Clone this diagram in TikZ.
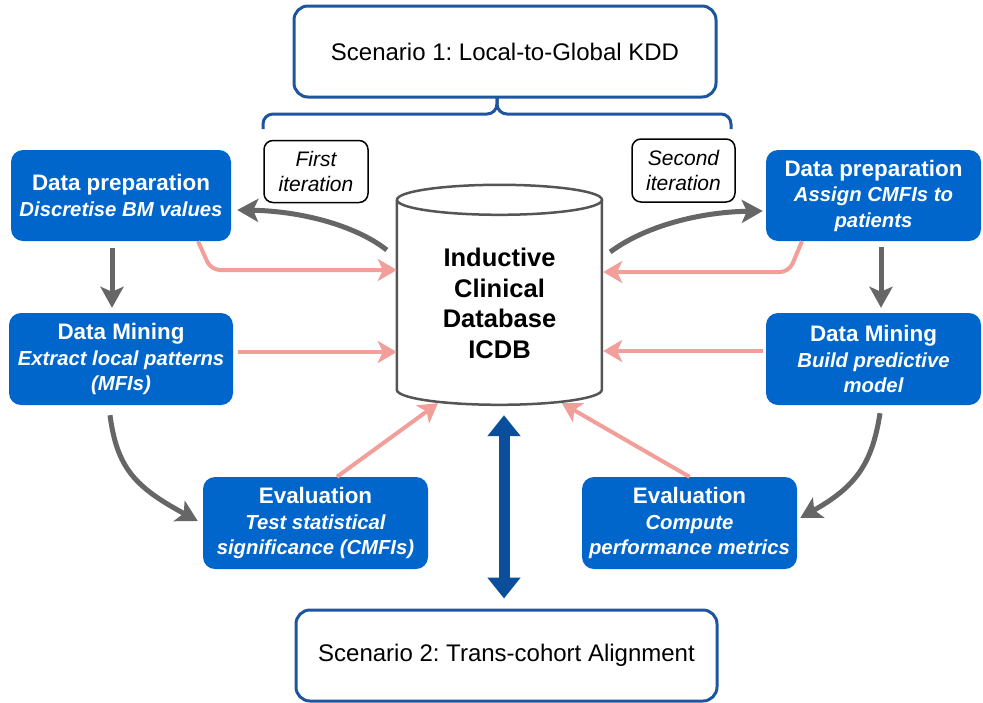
\documentclass[tikz,border=0pt]{standalone}
\usepackage{fontspec}
\setmainfont{Liberation Sans}
\usetikzlibrary{arrows.meta,calc}
\definecolor{boxblue}{HTML}{0066CC}
\definecolor{scblue}{HTML}{1F559F}
\definecolor{dblue}{HTML}{0B4F9C}
\definecolor{garrow}{HTML}{666666}
\definecolor{parrow}{HTML}{F29E9A}
\definecolor{cylgray}{HTML}{555555}
\frenchspacing
\begin{document}
\begin{tikzpicture}[x=1pt,y=-1pt,
  stepbox/.style={rectangle, rounded corners=12pt, fill=boxblue, text=white, align=center, inner sep=0pt,
    font=\fontsize{20.3}{25.5}\selectfont\bfseries\itshape},
  scenbox/.style={rectangle, rounded corners=14pt, draw=scblue, line width=3pt, fill=white, inner sep=0pt,
    font=\fontsize{24}{29}\selectfont},
  iterbox/.style={rectangle, rounded corners=9pt, draw=black, line width=1.5pt, fill=white, align=center, inner sep=0pt,
    font=\fontsize{21}{25}\selectfont\itshape},
  graya/.style={draw=garrow, line width=5pt, -{Stealth[length=21pt,width=23pt,inset=5pt]}},
  pinka/.style={draw=parrow, line width=4pt, -{Stealth[length=19pt,width=22pt,inset=5pt]}},
]
\newcommand{\ttlfont}[1]{{\fontsize{22.4}{25.5}\selectfont\upshape #1}}
\useasboundingbox (0,0) rectangle (983,702);
\fill[white] (0,0) rectangle (983,702);

% scenario boxes
\node[scenbox, minimum width=422pt, minimum height=91pt] (s1) at (505,51.5) {Scenario 1: Local-to-Global KDD};
\node[scenbox, minimum width=421pt, minimum height=91pt] (s2) at (506.5,655.5) {Scenario 2: Trans-cohort Alignment};

% brace
\coordinate (bt) at (497,97);
\draw[scblue, line width=3pt, rounded corners=10pt] (bt) -- (497,114) -| (263,129);
\draw[scblue, line width=3pt, rounded corners=10pt] (bt) -- (497,114) -| (731,129);

% iteration labels
\node[iterbox, minimum width=104pt, minimum height=62pt] (it1) at (316,171.5) {First\\iteration};
\node[iterbox, minimum width=103pt, minimum height=63pt] (it2) at (683.5,170.5) {Second\\iteration};

% step boxes
\node[stepbox, minimum width=220pt, minimum height=91pt] (dpL) at (121,195.5) {\ttlfont{Data preparation}\\Discretise BM values};
\node[stepbox, minimum width=224pt, minimum height=92pt] (dmL) at (121,359) {\ttlfont{Data Mining}\\Extract local patterns\\(MFIs)};
\node[stepbox, minimum width=215pt, minimum height=91pt] (dpR) at (873.5,195.5) {\ttlfont{Data preparation}\\Assign CMFIs to\\patients};
\node[stepbox, minimum width=215pt, minimum height=92pt] (dmR) at (873.5,359) {\ttlfont{Data Mining}\\Build predictive\\model};
\node[stepbox, minimum width=225pt, minimum height=92pt] (evL) at (315.5,523) {\ttlfont{Evaluation}\\Test statistical\\significance (CMFIs)};
\node[stepbox, minimum width=215pt, minimum height=92pt] (evR) at (689.5,523) {\ttlfont{Evaluation}\\Compute\\performance metrics};

% database cylinder
\node[rectangle, minimum width=205pt, minimum height=220pt, inner sep=0pt] (db) at (499.5,295) {};
\draw[cylgray, line width=2.5pt, fill=white] ($(db.north west)+(0,15)$) -- ++(0,190)
  arc[start angle=180, end angle=360, x radius=102.5pt, y radius=15pt] -- ++(0,-190);
\draw[cylgray, line width=2.5pt] ($(db.north)+(0,15)$) ellipse [x radius=102.5pt, y radius=15pt];
\node[align=center, inner sep=0pt, font=\fontsize{25.5}{30.5}\selectfont\bfseries] (dbtext) at ($(db.center)+(0,8.5)$) {Inductive\\Clinical\\Database\\ICDB};

% gray process arrows
\draw[graya] ($(db.west)+(-10,-45)$) .. controls (355,225) and (300,211) .. ($(dpL.east)+(6,14.5)$);
\draw[graya] ($(db.east)+(8,-43)$) .. controls (645,226) and (700,212) .. ($(dpR.west)+(-3,15.5)$);
\draw[graya] ($(dpL.south)+(-9,7)$) -- ($(dmL.north)+(-9,-5)$);
\draw[graya] ($(dpR.south)+(7.5,6)$) -- ($(dmR.north)+(7.5,-5)$);
\draw[graya] ($(dmL.south)+(-11,10)$) .. controls (117,468) and (135,487) .. ($(evL.west)+(-5,-2)$);
\draw[graya] ($(dmR.south)+(6.5,8)$) .. controls (872,465) and (855,487) .. ($(evR.east)+(3,-5)$);

% pink feedback arrows
\draw[pinka, rounded corners=9pt] ($(dpL.south)+(77,0)$) -- (211,270) -- ($(db.west)+(0,-25)$);
\draw[pinka] ($(dmL.east)+(5,-7)$) -- ($(db.west)+(0,57)$);
\draw[pinka, rounded corners=9pt] ($(dpR.south)+(-71.5,0)$) -- (789,272) -- ($(db.east)+(1,-23)$);
\draw[pinka] ($(dmR.west)+(-3,-8)$) -- ($(db.east)+(1,56)$);
\draw[pinka] ($(evL.north)+(21.5,0)$) -- ($(db.south)+(-61.5,-2)$);
\draw[pinka] (evR.north) -- ($(db.south)+(62.5,-2)$);

% double arrow
\draw[dblue, line width=11pt, {Triangle[length=21pt,width=32pt]}-{Triangle[length=21pt,width=32pt]}]
  ($(db.south)+(4.5,10)$) -- ($(s2.north)+(-2.5,-10)$);
\end{tikzpicture}
\end{document}
